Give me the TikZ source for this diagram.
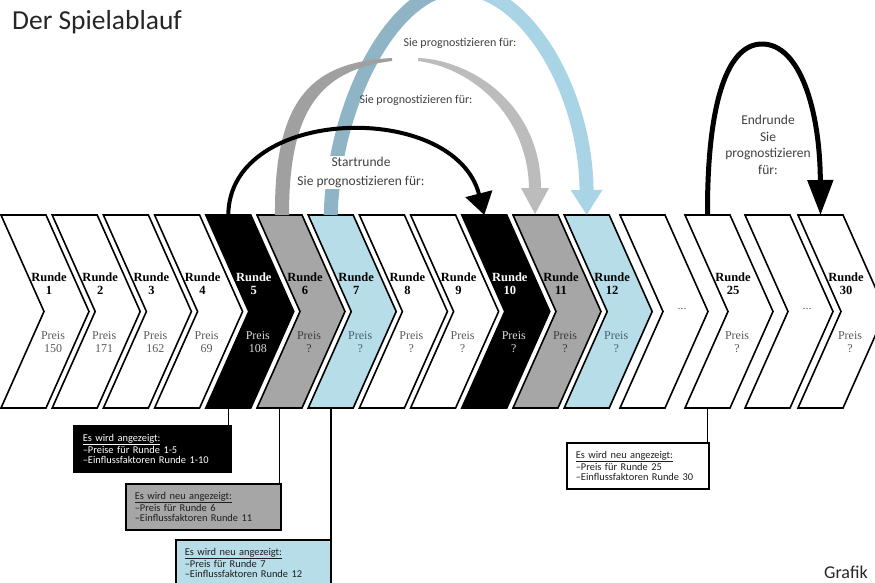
\documentclass[tikz,border=0pt]{standalone}
\usepackage{fontspec}
\setmainfont{Liberation Serif}
\newfontfamily\carl{Carlito}
\usetikzlibrary{arrows.meta,calc}
\definecolor{cgray}{HTML}{A6A6A6}
\definecolor{cblue}{HTML}{B7DDE8}
\definecolor{bluedark}{HTML}{8FB4C6}
\definecolor{bluelight}{HTML}{A9D4E6}
\definecolor{graydark}{HTML}{A0A0A0}
\definecolor{graylight}{HTML}{BCBCBC}
\definecolor{txt}{HTML}{404040}
\definecolor{preis}{HTML}{5A5A5A}
\definecolor{pgray}{HTML}{3C3C3C}
\definecolor{pblue}{HTML}{45626F}
\definecolor{pwhite}{HTML}{DDDDDD}
\definecolor{boxtxt}{HTML}{1E1E1E}
\tikzset{
  chev/.style={draw=black, line width=1.6pt, line join=miter},
  rtxt/.style={font=\fontsize{12.5}{13}\selectfont\bfseries, align=center, inner sep=0pt},
  ptxt/.style={font=\fontsize{12}{13}\selectfont, align=center, inner sep=0pt},
  lbl/.style={font=\carl\fontsize{13.5}{18.5}\selectfont, text=txt, align=center, inner sep=1pt},
  lblsmall/.style={font=\carl\fontsize{12}{14}\selectfont, text=txt, align=center, inner sep=1pt},
  infobox/.style={draw=black, line width=1.6pt, anchor=north west, align=left, inner xsep=9pt, inner ysep=0pt, minimum height=46pt, font=\carl\fontsize{10.4}{10.5}\selectfont},
  link/.style={draw=black, line width=1.6pt},
}
\begin{document}
\begin{tikzpicture}[x=1pt,y=-1pt]
\useasboundingbox (0,0) rectangle (875,582);
\clip (0,0) rectangle (875,582);
% anchor points of the chevrons
\foreach \k/\L in {1/1,2/52.2,3/103.4,4/154.6,5/205.8,6/257,7/308.2,8/359.4,9/410.6,10/461.8,11/513,12/564.2,13/620,14/685,15/745,16/798}{
  \coordinate (t\k) at (\L+22.5,215);
  \coordinate (b\k) at (\L+22.5,408);
}
% chevrons
\foreach \k/\L/\f in {1/1/white,2/52.2/white,3/103.4/white,4/154.6/white,5/205.8/black,6/257/cgray,7/308.2/cblue,8/359.4/white,9/410.6/white,10/461.8/black,11/513/cgray,12/564.2/cblue,13/620/white,14/685/white,15/745/white,16/798/white}{
  \path[chev, fill=\f] (\L,215) -- ++(45,0) -- ++(43,96.5) -- ++(-43,96.5) -- ++(-45,0) -- ++(43,-96.5) -- cycle;
}
% chevron texts
\foreach \k/\L/\n/\p/\rc/\pc in {1/1/1/150/black/preis,2/52.2/2/171/black/preis,3/103.4/3/162/black/preis,4/154.6/4/69/black/preis,5/205.8/5/108/white/pwhite,6/257/6/?/black/pgray,7/308.2/7/?/black/pblue,8/359.4/8/?/black/preis,9/410.6/9/?/black/preis,10/461.8/10/?/white/pwhite,11/513/11/?/black/pgray,12/564.2/12/?/black/pblue,14/685/25/?/black/preis,16/798/30/?/black/preis}{
  \node[rtxt, text=\rc] (r\k) at (\L+48,283.5) {Runde\\\n};
  \node[ptxt, text=\pc] (p\k) at (\L+52,342.5) {Preis\\\p};
}
\node[ptxt, text=preis] (d13) at (682,309) {...};
\node[ptxt, text=preis] (d15) at (807,309) {...};
% blue arc
\coordinate (bpeak) at (458,-12);
\draw[line width=14pt, bluedark] (t7) .. controls (334,100) and (395,-12) .. (bpeak);
\draw[line width=14pt, bluelight, -{Triangle[width=30pt,length=25pt]}] (bpeak) .. controls (525,-12) and (586,90) .. (t12);
% gray arc
\fill[graydark] (275,215) .. controls (274,95) and (315,62) .. (392,58) -- (392,61) .. controls (320,70) and (289,110) .. (289,215) -- cycle;
\fill[graylight] (418,58) .. controls (472,60) and (541,105) .. (541,189) -- (529,189) .. controls (528,115) and (472,68) .. (418,61) -- cycle;
\fill[graylight] (521,188) -- (549,188) -- (535,214) -- cycle;
% black arcs
\draw[line width=4pt, -{Triangle[width=27pt,length=22pt]}] (t5) .. controls (229,105) and (455,100) .. (t10);
\coordinate (epeak) at (762,44);
\draw[line width=5pt, -{Triangle[width=25pt,length=35pt]}] (t14) .. controls (707,110) and (725,44) .. (epeak) .. controls (800,44) and (820,110) .. (t16);
% labels
\node[lbl, fill=white] (lstart) at (361,172.5) {Startrunde\\Sie prognostizieren für:};
\node[lblsmall] (lgray) at (416,100) {Sie prognostizieren für:};
\node[lblsmall] (lblue) at (460,43) {Sie prognostizieren für:};
\node[lbl, font=\carl\fontsize{13.5}{16.5}\selectfont] (lend) at (768,145) {Endrunde\\Sie\\prognostizieren\\für:};
% info boxes
\node[infobox, fill=black, text=white, text width=139pt] (box1) at (73,425) {\underline{Es wird angezeigt:}\\–Preise für Runde 1-5\\–Einflussfaktoren Runde 1-10};
\node[infobox, fill=cgray, text=boxtxt, text width=137pt] (box2) at (125,483) {\underline{Es wird neu angezeigt:}\\–Preis für Runde 6\\–Einflussfaktoren Runde 11};
\node[infobox, fill=cblue, text=boxtxt, text width=137pt] (box3) at (175,539) {\underline{Es wird neu angezeigt:}\\–Preis für Runde 7\\–Einflussfaktoren Runde 12};
\node[infobox, fill=white, text=boxtxt, text width=124pt] (box4) at (566,442) {\underline{Es wird neu angezeigt:}\\–Preis für Runde 25\\–Einflussfaktoren Runde 30};
\draw[link] (b5) -- (b5 |- box1.north);
\draw[link] (b6) -- (b6 |- box2.north);
\draw[link] (b7) -- (b7 |- box3.north);
\draw[link] (b14) -- (b14 |- box4.north);
% title and footer
\node[anchor=base west, inner sep=0pt, font=\carl\fontsize{27.5}{30}\selectfont, text=black!85] (title) at (12,29.5) {Der Spielablauf};
\node[anchor=base west, inner sep=0pt, font=\carl\fontsize{18}{22}\selectfont, text=black!85] (grafik) at (824,578) {Grafik};
\end{tikzpicture}
\end{document}
